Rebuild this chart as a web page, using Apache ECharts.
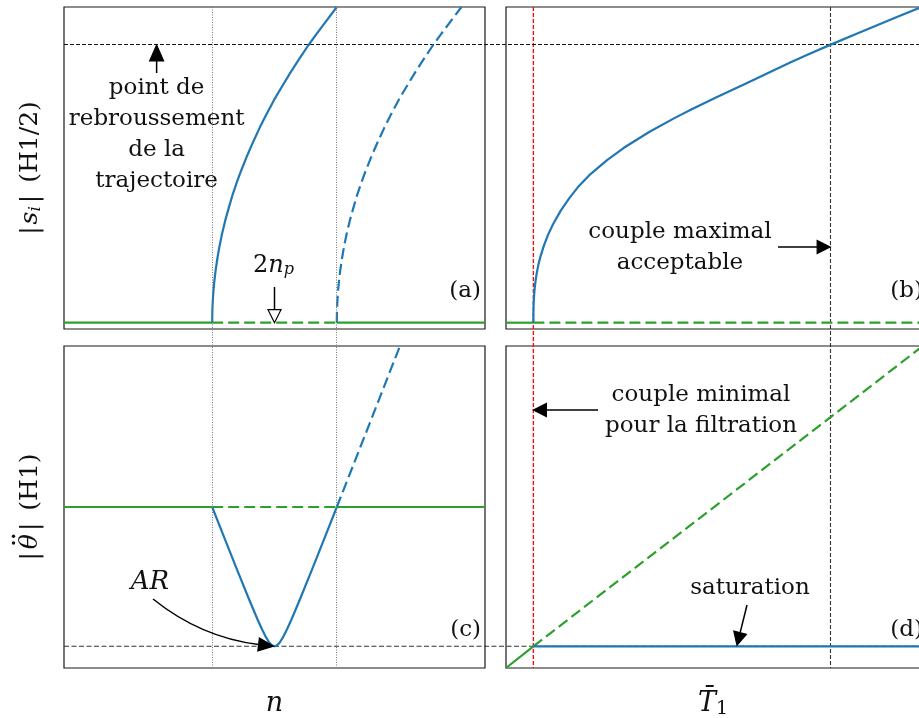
<!DOCTYPE html>
<html><head><meta charset="utf-8">
<script src="https://cdn.jsdelivr.net/npm/echarts@6/dist/echarts.min.js"></script>
<style>html,body{margin:0;padding:0;background:#fff}#c{width:919px;height:718px}</style>
</head><body><div id="c"></div>
<script>
// ---------------- data ----------------
const nBounds = [0.352, 0.648];   // dotted verticals in (a)/(c)
const tBounds = [0.065, 0.77];    // couple minimal (red) / couple maximal (black)
const sTurn = 0.88;               // point de rebroussement level
const arLevel = 0.0674;           // AR level in (c)/(d)
const greenLevelA = 0;            // green level in (a)/(b)
const greenLevelC = 0.5;          // green level in (c)

// (a) blue |s_i| solid branch, and dashed branch
const nBlueA  = [0.352,0.3521,0.3525,0.353,0.354,0.355,0.357,0.36,0.364,0.369,0.375,0.383,0.392,0.40,0.41,0.42,0.435,0.45,0.465,0.48,0.50,0.52,0.54,0.56,0.58,0.60,0.625,0.648];
const sBlueA  = [0,0.018,0.041,0.058,0.082,0.101,0.130,0.164,0.201,0.240,0.279,0.324,0.367,0.403,0.443,0.479,0.529,0.575,0.618,0.658,0.708,0.753,0.797,0.838,0.878,0.915,0.959,1.0];
const nBlueAd = [0.648,0.6481,0.6485,0.649,0.650,0.651,0.653,0.656,0.660,0.665,0.671,0.679,0.688,0.696,0.706,0.716,0.731,0.746,0.761,0.776,0.796,0.816,0.836,0.856,0.876,0.896,0.921,0.944];
const sBlueAd = [0,0.018,0.041,0.058,0.082,0.101,0.130,0.164,0.201,0.240,0.279,0.324,0.367,0.403,0.443,0.479,0.529,0.575,0.618,0.658,0.708,0.753,0.797,0.838,0.878,0.915,0.959,1.0];

// (b) blue |s_i| versus T1
const tBlueB = [0.065,0.0651,0.0655,0.066,0.067,0.068,0.070,0.073,0.077,0.082,0.09,0.10,0.112,0.13,0.15,0.17,0.20,0.24,0.28,0.34,0.40,0.44,0.50,0.57,0.63,0.675,0.72,0.77,0.83,0.87,0.93,0.981,1.0];
const sBlueB = [0,0.030,0.053,0.070,0.091,0.107,0.130,0.157,0.184,0.210,0.244,0.279,0.3125,0.355,0.394,0.428,0.470,0.515,0.554,0.604,0.648,0.675,0.714,0.758,0.796,0.824,0.851,0.88,0.914,0.936,0.969,0.997,1.007];

// (c) blue |theta''| solid V and dashed continuation
const nBlueC  = [0.352,0.38,0.41,0.44,0.46,0.47,0.48,0.485,0.49,0.495,0.50,0.505,0.51,0.515,0.52,0.53,0.54,0.56,0.59,0.62,0.648];
const vBlueC  = [0.5,0.4073,0.3087,0.2119,0.1499,0.1209,0.095,0.0846,0.0752,0.0694,0.0674,0.0694,0.0752,0.0846,0.095,0.1209,0.1499,0.2119,0.3087,0.4073,0.5];
const nBlueCd = [0.648,0.70,0.75,0.798];
const vBlueCd = [0.5,0.6729,0.8396,1.0];

// (d) green linear and blue saturation
const tGreenD = [0, 0.065, 1.0];
const vGreenD = [0, 0.0674, 1.01];
const tBlueD  = [0.065, 1.0];
const vBlueD  = [0.0674, 0.0674];

// ---------------- chart ----------------
const BLUE = '#1f77b4', GREEN = '#2ca02c';
const FF = '"DejaVu Serif", serif';
const zip = (a, b) => a.map((v, i) => [v, b[i]]);
const chart = echarts.init(document.getElementById('c'));

// right-hand panels run past the window edge: visible part of width 421 is 414
const RW = 414, RMAX = 414 / 421;

const hidden = {axisLine:{show:false}, axisTick:{show:false}, axisLabel:{show:false}, splitLine:{show:false}};
const gridBox = {show:true, borderColor:'#1a1a1a', borderWidth:1.2, backgroundColor:'transparent', containLabel:false, outerBoundsMode:'none'};

function line(xi, data, color, dashed, z) {
  return {type:'line', xAxisIndex:xi, yAxisIndex:xi, data, showSymbol:false, symbol:'none', silent:true,
    smooth:false, clip:true, z: z || 3,
    lineStyle:{color, width:2.2, type: dashed ? [11,5] : 'solid', cap:'butt', join:'round'}};
}

const upright = {fontFamily:FF, fontSize:23, color:'#111'};
const ital = {fontFamily:FF, fontSize:23, fontStyle:'italic', color:'#111'};
const subI = {fontFamily:FF, fontSize:16, fontStyle:'italic', color:'#111', verticalAlign:'bottom', lineHeight:18};
const subU = {fontFamily:FF, fontSize:16, color:'#111', verticalAlign:'bottom', lineHeight:18};

const option = {
  animation:false,
  grid:[
    Object.assign({left:64, top:7, width:421, height:322}, gridBox),
    Object.assign({left:506, top:7, width:RW, height:322}, gridBox),
    Object.assign({left:64, top:346, width:421, height:322}, gridBox),
    Object.assign({left:506, top:346, width:RW, height:322}, gridBox)
  ],
  xAxis:[
    Object.assign({type:'value', gridIndex:0, min:0, max:1}, hidden),
    Object.assign({type:'value', gridIndex:1, min:0, max:RMAX}, hidden),
    Object.assign({type:'value', gridIndex:2, min:0, max:1, name:'{m|n}', nameLocation:'middle', nameGap:21,
      nameTextStyle:{rich:{m:Object.assign({}, ital, {fontSize:27, lineHeight:30})}}}, hidden),
    Object.assign({type:'value', gridIndex:3, min:0, max:RMAX, name:'{m|T\u0304}{s|1}', nameLocation:'middle', nameGap:21,
      nameTextStyle:{rich:{m:Object.assign({}, ital, {fontSize:27, lineHeight:30}), s:Object.assign({}, subU, {fontSize:19, lineHeight:20})}}}, hidden)
  ],
  yAxis:[
    Object.assign({type:'value', gridIndex:0, min:-0.02, max:1}, hidden),
    Object.assign({type:'value', gridIndex:1, min:-0.02, max:1}, hidden),
    Object.assign({type:'value', gridIndex:2, min:0, max:1}, hidden),
    Object.assign({type:'value', gridIndex:3, min:0, max:1}, hidden)
  ],
  series:[
    // (a)
    line(0, [[0, greenLevelA],[nBounds[0], greenLevelA]], GREEN, false),
    line(0, [[nBounds[0], greenLevelA],[nBounds[1], greenLevelA]], GREEN, true),
    line(0, [[nBounds[1], greenLevelA],[1, greenLevelA]], GREEN, false),
    line(0, zip(nBlueA, sBlueA), BLUE, false, 4),
    line(0, zip(nBlueAd, sBlueAd), BLUE, true, 4),
    // (b)
    line(1, [[0, greenLevelA],[tBounds[0], greenLevelA]], GREEN, false),
    line(1, [[tBounds[0], greenLevelA],[1, greenLevelA]], GREEN, true),
    line(1, zip(tBlueB, sBlueB), BLUE, false, 4),
    // (c)
    line(2, [[0, greenLevelC],[nBounds[0], greenLevelC]], GREEN, false),
    line(2, [[nBounds[0], greenLevelC],[nBounds[1], greenLevelC]], GREEN, true),
    line(2, [[nBounds[1], greenLevelC],[1, greenLevelC]], GREEN, false),
    line(2, zip(nBlueC, vBlueC), BLUE, false, 4),
    line(2, zip(nBlueCd, vBlueCd), BLUE, true, 4),
    // (d)
    line(3, zip(tGreenD.slice(0,2), vGreenD.slice(0,2)), GREEN, false),
    line(3, zip(tGreenD.slice(1), vGreenD.slice(1)), GREEN, true),
    line(3, zip(tBlueD, vBlueD), BLUE, false, 4)
  ]
};
chart.setOption(option);

// ---------------- reference lines and annotations ----------------
const P = (g, x, y) => chart.convertToPixel({gridIndex:g}, [x, y]);
const crisp = v => Math.round(v - 0.5) + 0.5;
const G = [];
function seg(x1, y1, x2, y2, stroke, w, dash, z) {
  G.push({type:'line', silent:true, z:z, shape:{x1, y1, x2, y2}, style:{stroke, lineWidth:w, lineDash:dash}});
}
const topA = P(0, 0, 1)[1], botC = P(2, 0, 0)[1];
nBounds.forEach(n => { const x = crisp(P(0, n, 0)[0]); seg(x, topA, x, botC, '#777', 1, [1, 1.5], 10); });
{ const x = P(1, tBounds[0], 0)[0]; seg(x, topA, x, botC, '#f01010', 1.4, [4, 2], 2); }
{ const x = crisp(P(1, tBounds[1], 0)[0]); seg(x, topA, x, botC, '#333', 1.1, [4, 2], 2); }
{ const y = crisp(P(0, 0, sTurn)[1]); seg(P(0, 0, 0)[0], y, 919, y, '#111', 1.0, [4, 2], 2); }
{ const y = P(2, 0, arLevel)[1]; seg(P(2, 0, 0)[0], y, 919, y, '#333', 1.1, [5, 2.5], 2); }

function arrowHead(x2, y2, ux, uy, len, hw, hollow) {
  const bx = x2 - ux*len, by = y2 - uy*len, px = -uy, py = ux;
  G.push({type:'polygon', silent:true, z:12, shape:{points:[[x2,y2],[bx+px*hw,by+py*hw],[bx-px*hw,by-py*hw]]},
    style:{fill: hollow ? '#fff' : '#000', stroke:'#000', lineWidth:1.2, lineJoin:'miter'}});
  return [bx, by];
}
function arrow(x1, y1, x2, y2, len, hw, hollow) {
  const dx = x2-x1, dy = y2-y1, L = Math.hypot(dx, dy), ux = dx/L, uy = dy/L;
  const b = arrowHead(x2, y2, ux, uy, len, hw, hollow);
  G.push({type:'line', silent:true, z:12, shape:{x1, y1, x2:b[0], y2:b[1]}, style:{stroke:'#000', lineWidth:1.5}});
}
function text(x, y, str, opts) {
  G.push({type:'text', silent:true, z:12, x, y, style:Object.assign({text:str, fontFamily:FF, fontSize:23, fill:'#111',
    align:'center', verticalAlign:'middle'}, opts || {})});
}
// vertical (rotated) axis titles built from measured pieces
const mctx = document.createElement('canvas').getContext('2d');
function vlabel(cx, cy, parts, extra) {
  let total = 0;
  parts.forEach(p => { p.font = (p.italic ? 'italic ' : '') + p.size + 'px ' + FF; mctx.font = p.font;
    p.w = mctx.measureText(p.t).width; total += (p.gap || 0) + p.w; });
  let x = -total / 2; const children = [];
  parts.forEach(p => { x += p.gap || 0; p.x = x;
    children.push({type:'text', x, y:p.dy || 0, style:{text:p.t, font:p.font, fill:'#111', align:'left', verticalAlign:'middle'}});
    x += p.w; });
  if (extra) extra(parts, children);
  G.push({type:'group', x:cx, y:cy, rotation:Math.PI/2, silent:true, children});
}
const ySz = 25;
vlabel(30, (P(0,0,1)[1] + P(0,0,-0.02)[1]) / 2, [
  {t:'|', size:ySz}, {t:'s', size:ySz, italic:true, gap:2}, {t:'i', size:17, italic:true, dy:6, gap:0},
  {t:'|', size:ySz, gap:3}, {t:'(H1/2)', size:ySz, gap:12}
]);
vlabel(30, (P(2,0,1)[1] + P(2,0,0)[1]) / 2, [
  {t:'|', size:ySz}, {t:'\u03B8', size:ySz, italic:true, gap:3}, {t:'|', size:ySz, gap:3}, {t:'(H1)', size:ySz, gap:12}
], (parts, ch) => {
  const th = parts[1], cxT = th.x + th.w / 2 + 2;
  ch.push({type:'circle', shape:{cx:cxT - 3.4, cy:-16.5, r:1.7}, style:{fill:'#111'}});
  ch.push({type:'circle', shape:{cx:cxT + 3.4, cy:-16.5, r:1.7}, style:{fill:'#111'}});
});

// (a) annotations
const yTurn = P(0, 0, sTurn)[1];
const xCusp = P(0, 0.22, 0)[0];
arrow(xCusp, 73, xCusp, yTurn, 16, 7, false);
text(xCusp, 73, 'point de\nrebroussement\nde la\ntrajectoire', {verticalAlign:'top', lineHeight:31});
const xMid = P(0, 0.5, 0)[0], yGreenA = P(0, 0, greenLevelA)[1];
arrow(xMid, 287, xMid, yGreenA, 13, 6.5, true);
text(xMid - 1, 266, '{u|2}{m|n}{s|p}', {rich:{u:Object.assign({}, upright, {fontSize:24}), m:Object.assign({}, ital, {fontSize:24}), s:subI}});
text(481, 291, '(a)', {align:'right'});
// (b)
const xMax = P(1, tBounds[1], 0)[0], xMin = P(1, tBounds[0], 0)[0];
text(680, 217, 'couple maximal\nacceptable', {verticalAlign:'top', lineHeight:31});
arrow(778, 247, xMax, 247, 13, 6.5, false);
text(923, 291, '(b)', {align:'right'});
// (c)
const yAR = P(2, 0, arLevel)[1];
text(150, 582, '{m|AR}', {rich:{m:Object.assign({}, ital, {fontSize:26})}});
{
  const x0 = 153, y0 = 599, x2 = xMid - 1, y2 = yAR, cx = 201, cy = 637.5;
  const tx = x2 - cx, ty = y2 - cy, L = Math.hypot(tx, ty);
  const b = arrowHead(x2, y2, tx/L, ty/L, 15, 6.5, false);
  G.push({type:'bezierCurve', silent:true, z:12, shape:{x1:x0, y1:y0, x2:b[0], y2:b[1], cpx1:cx, cpy1:cy},
    style:{stroke:'#000', lineWidth:1.5, fill:null}});
}
text(481, 630, '(c)', {align:'right'});
// (d)
text(701, 380, 'couple minimal\npour la filtration', {verticalAlign:'top', lineHeight:31});
arrow(598, 410, xMin, 410, 13, 6.5, false);
text(750, 588, 'saturation');
arrow(747, 605, 737, yAR - 1, 13, 6.5, false);
text(923, 630, '(d)', {align:'right'});

chart.setOption({graphic:{elements:G}});
</script></body></html>
